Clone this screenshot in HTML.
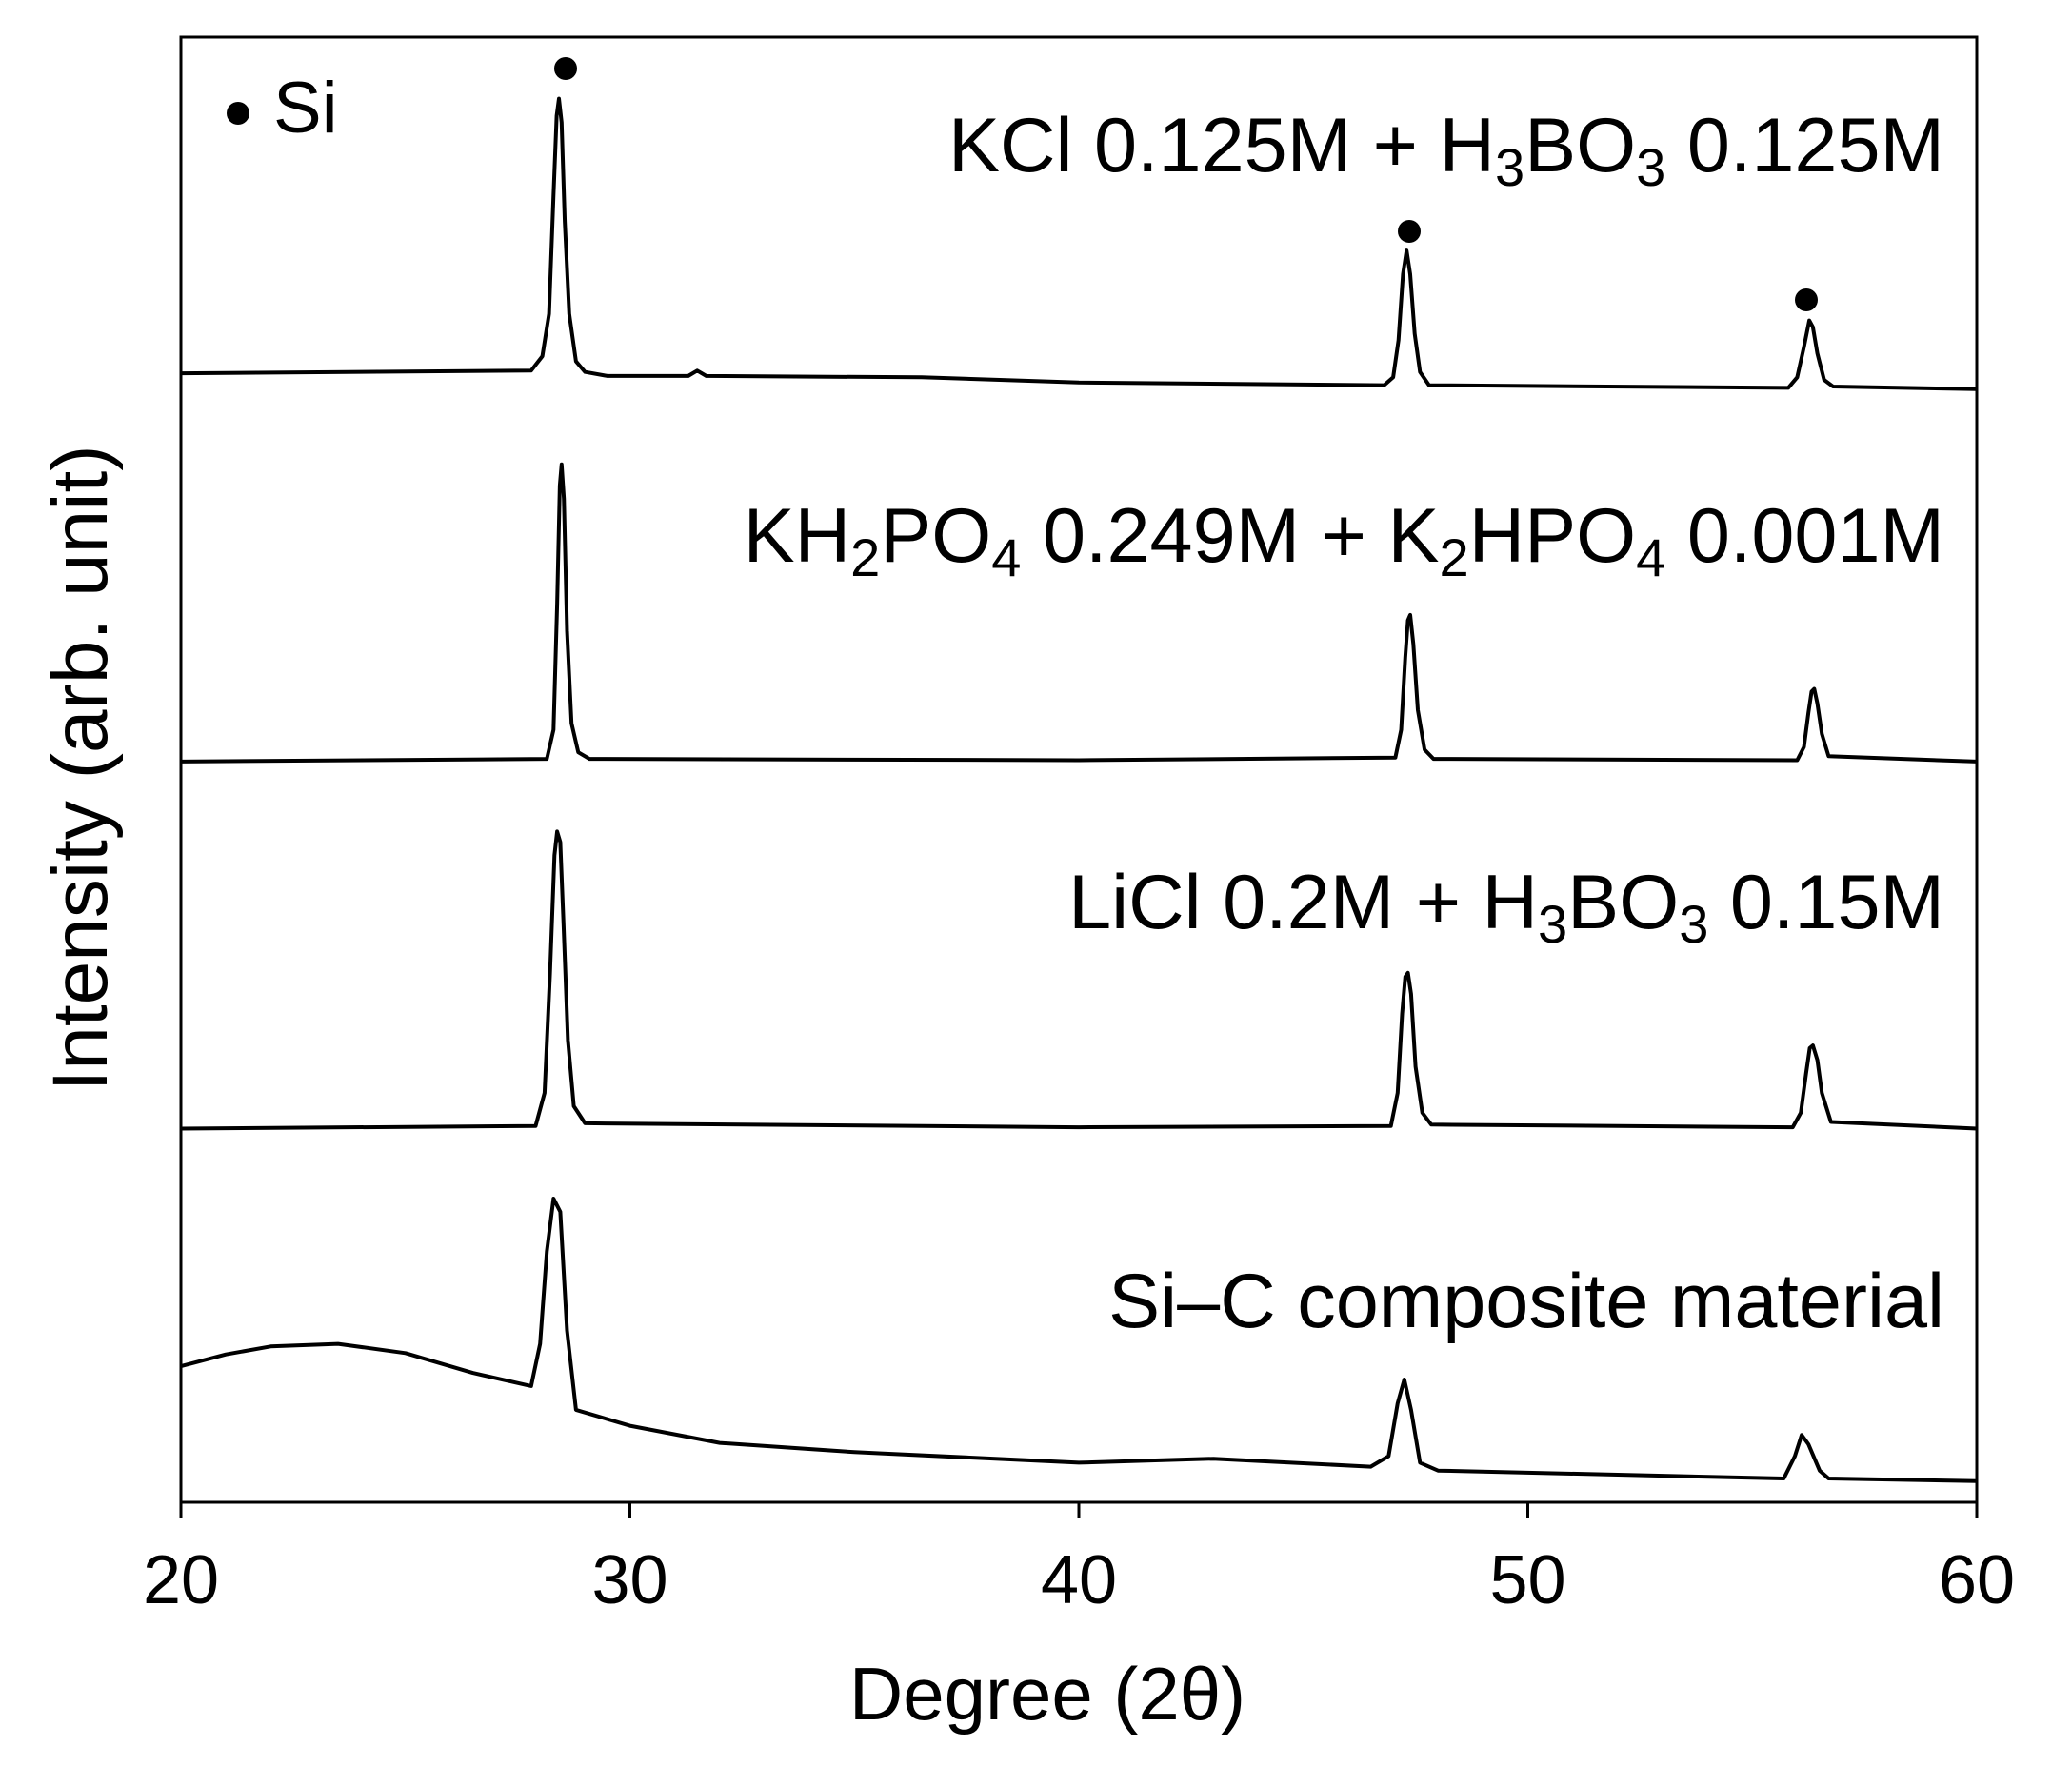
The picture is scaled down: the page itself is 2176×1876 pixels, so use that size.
<!DOCTYPE html>
<html><head><meta charset="utf-8"><style>
body{margin:0;background:#fff}
svg{display:block;font-family:"Liberation Sans",sans-serif}
</style></head><body>
<svg id="chart" width="2176" height="1876" viewBox="0 0 2176 1876" xmlns="http://www.w3.org/2000/svg">
<rect x="190" y="39" width="1886" height="1539" fill="none" stroke="#000" stroke-width="3"/>
<g id="ticks"></g>
<g id="traces"></g>
<text x="1100" y="1806" font-size="78" text-anchor="middle">Degree (2θ)</text>
<text transform="translate(112,807) rotate(-90)" font-size="82" text-anchor="middle">Intensity (arb. unit)</text>
<circle cx="250" cy="119" r="12" fill="#000"/>
<text x="287" y="139" font-size="76">Si</text>
<circle cx="594" cy="72" r="12" fill="#000"/>
<circle cx="1480" cy="243" r="12" fill="#000"/>
<circle cx="1897" cy="315" r="12" fill="#000"/>
<text x="2042" y="180" font-size="81" text-anchor="end">KCl 0.125M + H<tspan font-size="56" dy="15">3</tspan><tspan dy="-15">BO</tspan><tspan font-size="56" dy="15">3</tspan><tspan dy="-15"> 0.125M</tspan></text>
<text x="2042" y="590" font-size="81" text-anchor="end">KH<tspan font-size="56" dy="15">2</tspan><tspan dy="-15">PO</tspan><tspan font-size="56" dy="15">4</tspan><tspan dy="-15"> 0.249M + K</tspan><tspan font-size="56" dy="15">2</tspan><tspan dy="-15">HPO</tspan><tspan font-size="56" dy="15">4</tspan><tspan dy="-15"> 0.001M</tspan></text>
<text x="2042" y="975" font-size="81" text-anchor="end">LiCl 0.2M + H<tspan font-size="56" dy="15">3</tspan><tspan dy="-15">BO</tspan><tspan font-size="56" dy="15">3</tspan><tspan dy="-15"> 0.15M</tspan></text>
<text x="2042" y="1394" font-size="81" text-anchor="end">Si–C composite material</text>
</svg>
<script>
const xTicks=[20,30,40,50,60];
const xTickLabels=["20","30","40","50","60"];
const kclX=[20,27.8,28.05,28.2,28.3,28.37,28.42,28.48,28.55,28.65,28.8,29,29.5,31.3,31.5,31.7,36.5,40,46.8,47.0,47.12,47.22,47.3,47.38,47.48,47.6,47.8,55.8,56.0,56.15,56.27,56.35,56.45,56.6,56.8,60];
const kclY=[855,857,868,900,990,1050,1063,1045,970,900,864,856,853,853,857,853,852,848,846,852,880,930,948,930,885,856,846,844,852,875,895,890,870,850,845,843];
const khX=[20,28.15,28.3,28.38,28.44,28.48,28.53,28.6,28.7,28.85,29.1,40,47.05,47.18,47.27,47.33,47.38,47.45,47.55,47.7,47.9,56.0,56.15,56.25,56.32,56.38,56.45,56.55,56.7,60];
const khY=[561,563,585,680,770,786,760,660,590,568,563,562,564,585,640,668,672,650,600,570,563,562,572,598,614,616,605,582,565,561];
const liX=[20,27.9,28.1,28.22,28.32,28.38,28.45,28.52,28.62,28.75,29.0,40,46.95,47.1,47.2,47.27,47.33,47.4,47.5,47.65,47.85,55.9,56.08,56.2,56.28,56.35,56.45,56.55,56.75,60];
const liY=[283,285,310,400,490,508,500,440,350,300,287,284,285,310,370,398,401,385,330,295,286,284,295,325,344,346,335,310,288,283];
const sicX=[20,21,22,23.5,25,26.5,27.8,28.0,28.15,28.3,28.45,28.6,28.8,30,32,35,40,43,46.5,46.9,47.1,47.25,47.4,47.6,48,55.7,55.95,56.1,56.25,56.5,56.7,60];
const sicY=[103,112,118,120,113,98,88,120,190,230,220,130,70,58,45,38,30,33,27,35,75,93,70,30,24,18,35,51,44,24,18,16];
const NS='http://www.w3.org/2000/svg';
const xs=d=>190+(d-20)/40*1886;
const ys=v=>1578-v*1.387;
const tg=document.getElementById('ticks');
xTicks.forEach((t,i)=>{
  const l=document.createElementNS(NS,'line');
  
  
  l.setAttribute('x1',xs(t));l.setAttribute('x2',xs(t));l.setAttribute('y1',1578);l.setAttribute('y2',1595);
  l.setAttribute('stroke','#000');l.setAttribute('stroke-width','3');tg.appendChild(l);
  const tx=document.createElementNS(NS,'text');
  
  
  tx.setAttribute('x',xs(t));tx.setAttribute('y',1684);tx.setAttribute('font-size','72');tx.setAttribute('text-anchor','middle');
  tx.textContent=xTickLabels[i];tg.appendChild(tx);
});
const tr=document.getElementById('traces');
[[kclX,kclY,'trace-kcl'],[khX,khY,'trace-kh2po4'],[liX,liY,'trace-licl'],[sicX,sicY,'trace-si-c']].forEach(s=>{
  const p=document.createElementNS(NS,'path');
  
  
  p.setAttribute('d',s[0].map((x,i)=>(i?'L':'M')+xs(x).toFixed(1)+' '+ys(s[1][i]).toFixed(1)).join(''));
  p.setAttribute('fill','none');p.setAttribute('stroke','#000');p.setAttribute('stroke-width','4');p.setAttribute('stroke-linejoin','round');
  tr.appendChild(p);
});
</script>
</body></html>
